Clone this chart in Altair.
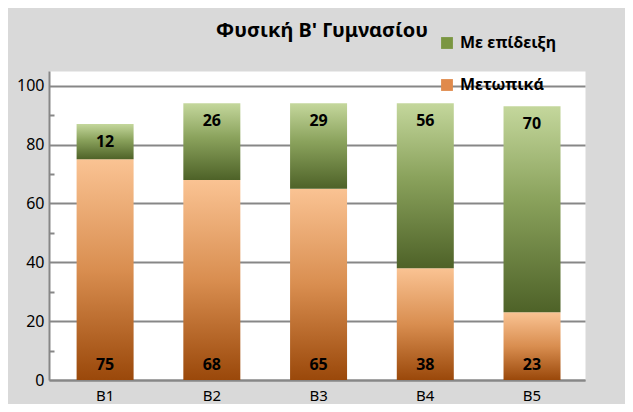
import altair as alt
import pandas as pd

categories = ["B1", "B2", "B3", "B4", "B5"]
series_names = ["Μετωπικά", "Με επίδειξη"]
metopika = [75, 68, 65, 38, 23]
epideixi = [12, 26, 29, 56, 70]
y_ticks = [0, 20, 40, 60, 80, 100]
minor_ticks = [10, 30, 50, 70, 90]
title_text = "Φυσική Β' Γυμνασίου"

rows = []
for c, m, e in zip(categories, metopika, epideixi):
    rows.append({"cat": c, "series": series_names[0], "value": m, "order": 0})
    rows.append({"cat": c, "series": series_names[1], "value": e, "order": 1})
df = pd.DataFrame(rows)

FONT = "Noto Sans"
GRID = "#878787"

orange_grad = alt.LinearGradient(
    gradient="linear", x1=0, x2=0, y1=0, y2=1,
    stops=[alt.GradientStop(color="#fac393", offset=0),
           alt.GradientStop(color="#d98e50", offset=0.5),
           alt.GradientStop(color="#9a480a", offset=1)])
green_grad = alt.LinearGradient(
    gradient="linear", x1=0, x2=0, y1=0, y2=1,
    stops=[alt.GradientStop(color="#c4d79c", offset=0),
           alt.GradientStop(color="#8aa25c", offset=0.45),
           alt.GradientStop(color="#4e6228", offset=1)])

x_enc = alt.X("cat:N", sort=categories,
              scale=alt.Scale(paddingInner=0.466, paddingOuter=0.244, align=0.53),
              axis=alt.Axis(title=None, labelAngle=0, ticks=False, labelFont=FONT,
                            labelFontSize=15, labelColor="black", labelPadding=8,
                            domainColor=GRID, domainWidth=2, grid=False))
y_scale = alt.Scale(domain=[0, 105], nice=False, zero=True)

base = alt.Chart()

orange = base.mark_bar(color=orange_grad).encode(
    x=x_enc,
    y=alt.Y("y0:Q", scale=y_scale,
            axis=alt.Axis(title=None, values=y_ticks, ticks=False, labelFont=FONT,
                          labelFontSize=16, labelColor="black", labelPadding=5,
                          domainColor=GRID, domainWidth=2, gridColor=GRID,
                          gridWidth=2, orient="left")),
    y2="y1:Q",
).transform_filter(alt.datum.order == 0)

green = base.mark_bar(color=green_grad).encode(
    x=x_enc,
    y=alt.Y("y0:Q", scale=y_scale, axis=None),
    y2="y1:Q",
).transform_filter(alt.datum.order == 1)

labels = base.mark_text(font=FONT, fontSize=16, fontWeight="bold", color="black",
                        baseline="middle").encode(
    x=x_enc,
    y=alt.Y("label_y:Q", scale=y_scale, axis=None),
    text="value:Q",
)

legend_layer = base.mark_square(opacity=0, size=1).encode(
    x=x_enc,
    y=alt.Y("y1:Q", scale=y_scale,
            axis=alt.Axis(title=None, orient="right", offset=-536, values=minor_ticks,
                          labels=False, domain=False, grid=False, ticks=True,
                          tickSize=5, tickColor=GRID, tickWidth=2)),
    color=alt.Color("series:N",
                    scale=alt.Scale(domain=[series_names[1], series_names[0]],
                                    range=["#7a9641", "#e08a4c"]),
                    legend=alt.Legend(title=None, orient="none", legendX=390,
                                      legendY=-36, symbolType="square", symbolSize=140,
                                      symbolOpacity=1, symbolStrokeWidth=0,
                                      labelFont=FONT, labelFontSize=16,
                                      labelFontWeight="bold", labelColor="black",
                                      rowPadding=26, labelOffset=5)),
)

chart = alt.layer(orange, green, labels, legend_layer, data=df).transform_stack(
    stack="value", groupby=["cat"], as_=["y0", "y1"],
    sort=[alt.SortField("order", order="ascending")]
).transform_calculate(
    label_y="datum.order == 1 ? datum.y1 - 6 : datum.y0 + 5"
).resolve_axis(y="independent").properties(
    width=536, height=309,
    title=alt.Title(title_text, font=FONT, fontSize=20, fontWeight="bold",
                    color="black", anchor="middle", dx=5, offset=30, dy=36),
    padding={"left": 41, "top": 63, "right": 40, "bottom": 24},
    autosize="none",
).configure(background="#d9d9d9").configure_view(fill="white", stroke="transparent")

chart.save("out.html", embed_options={"renderer": "svg", "actions": False})
